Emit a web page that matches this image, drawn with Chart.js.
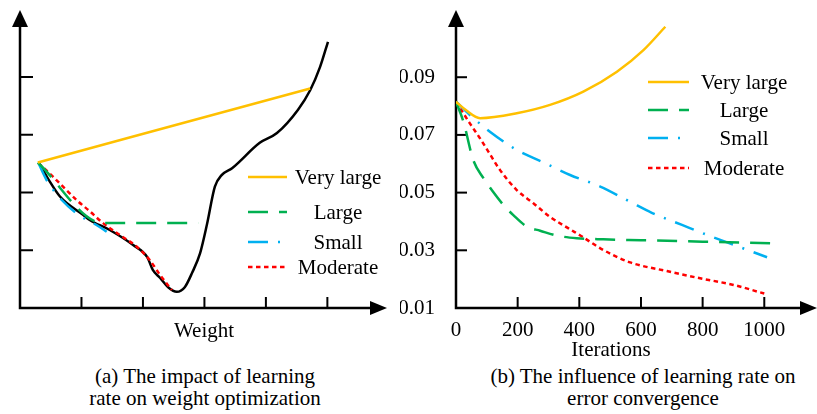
<!DOCTYPE html>
<html>
<head>
<meta charset="utf-8">
<script src="https://cdn.jsdelivr.net/npm/chart.js@4.4.1/dist/chart.umd.min.js"></script>
<style>
  html, body { margin: 0; padding: 0; background: #fff; }
  body { width: 817px; height: 414px; position: relative; overflow: hidden;
         font-family: "Liberation Serif", "Times New Roman", serif; color: #000; }
  #paneA { position: absolute; left: 0; top: 0; width: 400px; height: 360px; }
  #paneB { position: absolute; left: 400px; top: 0; width: 417px; height: 360px; }
  .caption { position: absolute; font-size: 21px; line-height: 22px; text-align: center; white-space: nowrap; }
</style>
</head>
<body>
<div id="paneA"><canvas id="chartA" width="400" height="360"></canvas></div>
<div id="paneB"><canvas id="chartB" width="417" height="360"></canvas></div>
<div class="caption" style="left:55px; width:300px; top:365px;">(a) The impact of learning<br>rate on weight optimization</div>
<div class="caption" style="left:483px; width:320px; top:365px;">(b) The influence of learning rate on<br>error convergence</div>

<script>
// ---- shared series styling ----
const seriesNames  = ['Very large', 'Large', 'Small', 'Moderate'];
const seriesColors = ['#FFC000', '#00B050', '#00B0F0', '#FF0000'];
const seriesDashes = [[], [20, 11], [20, 10, 2, 10], [4.5, 3.5]];

// ---- (a) loss surface over the weight, and the descent paths ----
const lossW = [0.31, 0.49, 0.65, 1.03, 1.14, 1.46, 1.84, 2.07, 2.16, 2.28, 2.41, 2.55, 2.68, 2.80, 2.93, 3.04, 3.17, 3.28, 3.45, 3.90, 4.18, 4.52, 4.72, 4.88, 5.01];
const lossV = [2.51, 2.18, 1.93, 1.61, 1.52, 1.35, 1.09, 0.88, 0.66, 0.52, 0.36, 0.28, 0.36, 0.61, 0.95, 1.44, 2.10, 2.30, 2.42, 2.86, 3.03, 3.43, 3.77, 4.17, 4.61];

const pathVeryLargeW = [0.29, 4.72];
const pathVeryLargeV = [2.52, 3.80];
const pathLargeW = [0.29, 1.35, 2.9];
const pathLargeV = [2.52, 1.47, 1.47];
const pathSmallW = [0.30, 0.43, 0.68, 0.92, 1.27, 1.41];
const pathSmallV = [2.51, 2.22, 1.87, 1.64, 1.42, 1.32];
const pathModerateW = [0.30, 0.54, 0.70, 0.92, 1.14, 1.35, 1.63, 1.90, 2.11, 2.28, 2.47];
const pathModerateV = [2.51, 2.27, 2.10, 1.87, 1.67, 1.47, 1.26, 1.06, 0.83, 0.57, 0.31];

const weightMarks = [1, 2, 3, 4, 5];
const lossMarks = [1, 2, 3, 4];

// ---- (b) error vs. iterations ----
const iterVeryLarge = [0, 32, 78, 197, 305, 413, 522, 608, 679];
const errVeryLarge  = [0.0815, 0.0786, 0.0758, 0.0775, 0.0804, 0.0850, 0.0919, 0.0994, 0.1075];
const iterLarge = [0, 24, 56, 89, 116, 154, 186, 230, 273, 327, 392, 478, 600, 800, 1020];
const errLarge  = [0.0815, 0.0746, 0.0613, 0.0550, 0.0509, 0.0457, 0.0422, 0.0382, 0.0368, 0.0351, 0.0342, 0.0338, 0.0335, 0.0330, 0.0324];
const iterSmall = [0, 45, 110, 197, 295, 370, 468, 565, 635, 733, 830, 911, 1009];
const errSmall  = [0.0815, 0.0769, 0.0711, 0.0648, 0.0599, 0.0561, 0.0521, 0.0468, 0.0430, 0.0388, 0.0347, 0.0315, 0.0276];
const iterModerate = [0, 45, 78, 105, 143, 197, 251, 305, 365, 410, 468, 565, 684, 792, 900, 1000];
const errModerate  = [0.0815, 0.0740, 0.0688, 0.0642, 0.0578, 0.0509, 0.0463, 0.0416, 0.0376, 0.0347, 0.0307, 0.0258, 0.0228, 0.0203, 0.0180, 0.0150];

const iterTicks = [0, 200, 400, 600, 800, 1000];
const errTicks  = [0.01, 0.03, 0.05, 0.07, 0.09];

const zip = (xs, ys) => xs.map((x, i) => ({ x, y: ys[i] }));

const SERIF = '"Liberation Serif", "Times New Roman", serif';
Chart.defaults.font.family = SERIF;
Chart.defaults.font.size = 21;
Chart.defaults.color = '#000';

function seriesDataset(k, xs, ys) {
  return {
    label: seriesNames[k],
    data: zip(xs, ys),
    borderColor: seriesColors[k],
    backgroundColor: seriesColors[k],
    borderDash: seriesDashes[k],
    borderWidth: 2.5,
    pointRadius: 0,
    fill: false,
    cubicInterpolationMode: 'monotone',
    inLegend: true
  };
}

// Axes with arrowheads, inward tick marks, a hand-placed legend and an axis title.
const framePlugin = {
  id: 'frame',
  beforeDatasetsDraw(chart, args, o) {
    const ctx = chart.ctx, xs = chart.scales.x, ys = chart.scales.y;
    const x0 = xs.getPixelForValue(xs.min), y0 = ys.getPixelForValue(ys.min);
    const xEnd = chart.chartArea.right, yEnd = chart.chartArea.top;
    ctx.save();
    ctx.strokeStyle = '#000';
    ctx.fillStyle = '#000';
    ctx.lineWidth = 2.5;
    ctx.beginPath();
    ctx.moveTo(x0, yEnd + 12); ctx.lineTo(x0, y0); ctx.lineTo(xEnd - 12, y0);
    ctx.stroke();
    ctx.beginPath();
    ctx.moveTo(x0, yEnd); ctx.lineTo(x0 - 8, yEnd + 17); ctx.lineTo(x0 + 8, yEnd + 17); ctx.closePath();
    ctx.fill();
    ctx.beginPath();
    ctx.moveTo(xEnd, y0); ctx.lineTo(xEnd - 17, y0 - 7); ctx.lineTo(xEnd - 17, y0 + 7); ctx.closePath();
    ctx.fill();
    ctx.lineWidth = 2;
    o.xMarks.forEach(v => {
      const p = xs.getPixelForValue(v);
      ctx.beginPath(); ctx.moveTo(p, y0); ctx.lineTo(p, y0 - 11); ctx.stroke();
    });
    o.yMarks.forEach(v => {
      const p = ys.getPixelForValue(v);
      ctx.beginPath(); ctx.moveTo(x0, p); ctx.lineTo(x0 + o.yMarkLen, p); ctx.stroke();
    });
    ctx.restore();
  },
  afterDatasetsDraw(chart, args, o) {
    const ctx = chart.ctx;
    ctx.save();
    const entries = chart.data.datasets.filter(d => d.inLegend);
    entries.forEach((d, i) => {
      const y = o.legend.rows[i];
      ctx.strokeStyle = d.borderColor;
      ctx.lineWidth = d.borderWidth;
      ctx.setLineDash(d.borderDash);
      ctx.beginPath(); ctx.moveTo(o.legend.x0, y); ctx.lineTo(o.legend.x1, y); ctx.stroke();
      ctx.setLineDash([]);
      ctx.font = '21px ' + SERIF;
      ctx.textAlign = 'center';
      ctx.textBaseline = 'middle';
      ctx.fillStyle = '#000';
      ctx.fillText(d.label, o.legend.textX, y + 1);
    });
    ctx.font = '21px ' + SERIF;
    ctx.textAlign = 'center';
    ctx.textBaseline = 'middle';
    ctx.fillStyle = '#000';
    ctx.fillText(o.title.text, o.title.x, o.title.y);
    ctx.restore();
  }
};

// ---- chart (a) ----
new Chart(document.getElementById('chartA'), {
  type: 'line',
  data: {
    datasets: [
      seriesDataset(0, pathVeryLargeW, pathVeryLargeV),
      seriesDataset(1, pathLargeW, pathLargeV),
      seriesDataset(2, pathSmallW, pathSmallV),
      seriesDataset(3, pathModerateW, pathModerateV),
      {
        label: 'Loss',
        data: zip(lossW, lossV),
        borderColor: '#000',
        borderWidth: 2.5,
        pointRadius: 0,
        fill: false,
        cubicInterpolationMode: 'monotone'
      }
    ]
  },
  options: {
    responsive: false,
    animation: false,
    events: [],
    layout: { padding: { left: 20, right: 13, top: 10, bottom: 52 } },
    scales: {
      x: { type: 'linear', min: 0, max: 5.97, display: false },
      y: { type: 'linear', min: 0, max: 5.16, display: false }
    },
    plugins: {
      legend: { display: false },
      tooltip: { enabled: false },
      frame: {
        xMarks: weightMarks,
        yMarks: lossMarks,
        yMarkLen: 13,
        legend: { x0: 248, x1: 287, textX: 338, rows: [177, 212, 242, 267] },
        title: { text: 'Weight', x: 204, y: 331 }
      }
    }
  },
  plugins: [framePlugin]
});

// ---- chart (b) ----
const noPad = s => { s.paddingTop = 0; s.paddingBottom = 0; s.paddingLeft = 0; s.paddingRight = 0; };

new Chart(document.getElementById('chartB'), {
  type: 'line',
  data: {
    datasets: [
      seriesDataset(0, iterVeryLarge, errVeryLarge),
      seriesDataset(1, iterLarge, errLarge),
      seriesDataset(2, iterSmall, errSmall),
      seriesDataset(3, iterModerate, errModerate)
    ]
  },
  options: {
    responsive: false,
    animation: false,
    events: [],
    layout: { padding: { left: 0, right: 0, top: 10, bottom: 0 } },
    scales: {
      x: {
        type: 'linear', min: 0, max: 1171,
        grid: { display: false }, border: { display: false },
        afterBuildTicks: s => { s.ticks = iterTicks.map(v => ({ value: v })); },
        afterFit: s => { s.height = 52; noPad(s); },
        ticks: { padding: 2, maxRotation: 0, autoSkip: false, callback: v => String(v) }
      },
      y: {
        type: 'linear', min: 0.01, max: 0.1133,
        grid: { display: false }, border: { display: false },
        afterBuildTicks: s => { s.ticks = errTicks.map(v => ({ value: v })); },
        afterFit: s => { s.width = 56; noPad(s); },
        ticks: { padding: 13, autoSkip: false, callback: v => v.toFixed(2) }
      }
    },
    plugins: {
      legend: { display: false },
      tooltip: { enabled: false },
      frame: {
        xMarks: iterTicks.slice(1),
        yMarks: errTicks.slice(1),
        yMarkLen: 11,
        legend: { x0: 248, x1: 289, textX: 344, rows: [82, 110, 138, 168] },
        title: { text: 'Iterations', x: 211, y: 350 }
      }
    }
  },
  plugins: [framePlugin]
});
</script>
</body>
</html>
